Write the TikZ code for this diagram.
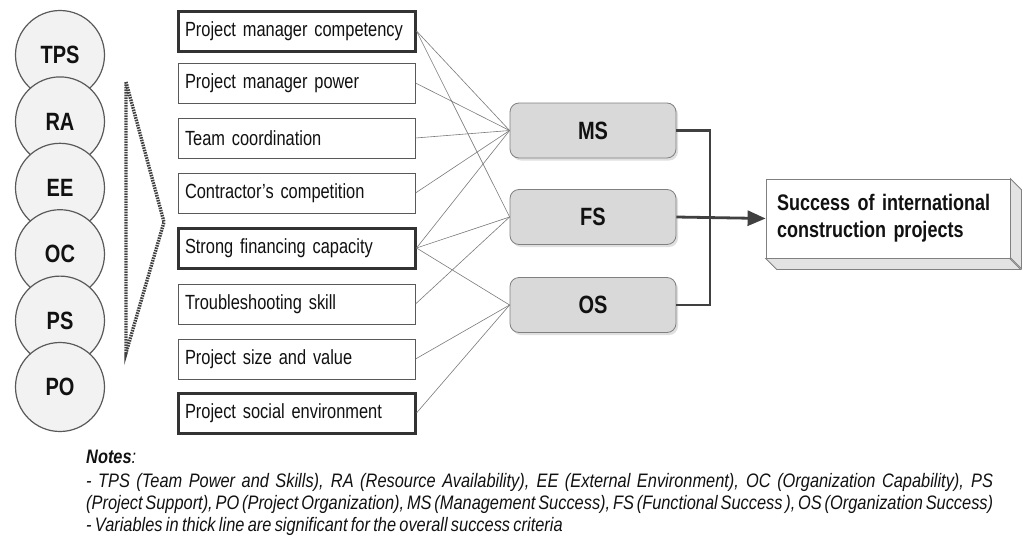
\documentclass[tikz,border=0pt]{standalone}
\usepackage{fontspec}
\setmainfont{Liberation Sans}[FakeStretch=0.8]
\newfontfamily\notefont{Liberation Sans}[FakeStretch=0.84]
\newcommand{\tsp}{\spaceskip=0.17em plus 0.6em minus 0.05em\relax}
\usetikzlibrary{arrows.meta,shadows}
\definecolor{circfill}{HTML}{F2F2F2}
\definecolor{circline}{HTML}{595959}
\definecolor{thickline}{HTML}{333333}
\definecolor{thinline}{HTML}{595959}
\definecolor{connline}{HTML}{7A7A7A}
\definecolor{sfill}{HTML}{D9D9D9}
\definecolor{sline}{HTML}{808080}
\definecolor{outline}{HTML}{404040}
\definecolor{sidefill}{HTML}{E3E3E3}
\definecolor{txt}{HTML}{111111}
\begin{document}
\begin{tikzpicture}[x=1pt,y=-1pt,
  circ/.style={circle, draw=circline, line width=1.2pt, fill=circfill, minimum size=89pt, inner sep=0pt,
    font=\fontsize{25}{28}\selectfont\bfseries, text=txt},
  vbox/.style={draw=thinline, line width=1pt, fill=white, minimum height=40pt, text width=223pt,
    inner xsep=7pt, inner ysep=0pt, align=left, font=\fontsize{20.5}{23}\selectfont, text=txt},
  sigbox/.style={vbox, draw=thickline, line width=3pt},
  conn/.style={draw=connline, line width=0.6pt},
  sbox/.style={draw=sline, line width=0.8pt, fill=sfill, rounded corners=9pt, minimum width=166pt,
    minimum height=55pt, font=\fontsize{25}{28}\selectfont\bfseries, text=txt,
    drop shadow={shadow xshift=2pt, shadow yshift=-2.5pt, fill=black!25, opacity=0.5}},
  outl/.style={draw=outline, line width=2.8pt},
  succbox/.style={draw=sline, line width=0.8pt, fill=white, minimum width=244pt, minimum height=79pt,
    text width=222pt, inner xsep=11pt, align=left, font=\fontsize{22.5}{27}\selectfont\bfseries, text=txt},
  sideface/.style={draw=sline, line width=0.8pt, fill=sidefill},
  dotline/.style={draw=outline, line width=3.4pt, dash pattern=on 1.6pt off 1pt},
  note/.style={font=\notefont\fontsize{19.5}{22}\selectfont\itshape\tsp, text=txt, inner sep=0pt}
]
\useasboundingbox (0,0) rectangle (1029,541);

% circles
\node[circ] (tps) at (60,55) {TPS};
\node[circ] (ra) at (60,121.4) {RA};
\node[circ] (ee) at (60,187.8) {EE};
\node[circ] (oc) at (60,254.2) {OC};
\node[circ] (ps) at (60,320.6) {PS};
\node[circ] (po) at (60,387) {PO};

% dotted wedge
\coordinate (w1) at (126,82);
\coordinate (w2) at (164,222);
\coordinate (w3) at (126,353);
\draw[dotline] (w1) -- (w2) -- (w3) -- cycle;

% variable boxes
\node[sigbox] (b1) at (296.5,31) {Project manager competency};
\node[vbox] (b2) at (296.5,83) {Project manager power};
\node[vbox] (b3) at (296.5,138) {Team coordination};
\node[vbox] (b4) at (296.5,193) {Contractor’s competition};
\node[sigbox] (b5) at (296.5,248) {Strong financing capacity};
\node[vbox] (b6) at (296.5,304) {Troubleshooting skill};
\node[vbox] (b7) at (296.5,359) {Project size and value};
\node[sigbox] (b8) at (296.5,413) {Project social environment};

% success criteria
\node[sbox] (ms) at (593,130.5) {MS};
\node[sbox] (fs) at (593,217) {FS};
\node[sbox] (os) at (593,305) {OS};

% connectors
\draw[conn] (b1.east) -- (ms.west);
\draw[conn] (b1.east) -- (fs.west);
\draw[conn] (b2.east) -- (ms.west);
\draw[conn] (b3.east) -- (ms.west);
\draw[conn] (b4.east) -- (ms.west);
\draw[conn] (b5.east) -- (ms.west);
\draw[conn] (b5.east) -- (fs.west);
\draw[conn] (b5.east) -- (os.west);
\draw[conn] (b6.east) -- (fs.west);
\draw[conn] (b7.east) -- (os.west);
\draw[conn] (b8.east) -- (os.west);

% overall success box (3D)
\node[succbox] (succ) at (888,218.5) {Success of international\\construction projects};
\draw[sideface] (succ.north east) -- ++(11,11) -- ++(0,79) -- ++(-11,-11) -- cycle;
\draw[sideface] (succ.south west) -- ++(11,11) -- ++(244,0) -- ++(-11,-11) -- cycle;

% output connectors
\coordinate (jx) at (710,217);
\draw[outl] (ms.east) -- (ms.east -| jx) -- (os.east -| jx) -- (os.east);
\draw[outl, -{Triangle[length=18pt,width=15pt]}] (fs.east) -- (succ.west);

% notes
\node[note, anchor=base west] (n0) at (86,463) {\textbf{Notes}:};
\node[note, anchor=base west] (n1) at (86,487) {\makebox[907pt][s]{- TPS (Team Power and Skills), RA (Resource Availability), EE (External Environment), OC (Organization Capability), PS}};
\node[note, anchor=base west] (n2) at (86,509) {\makebox[907pt][s]{(Project Support), PO (Project Organization), MS (Management Success), FS (Functional Success ), OS (Organization Success)}};
\node[note, anchor=base west] (n3) at (86,531) {- Variables in thick line are significant for the overall success criteria};
\end{tikzpicture}
\end{document}
